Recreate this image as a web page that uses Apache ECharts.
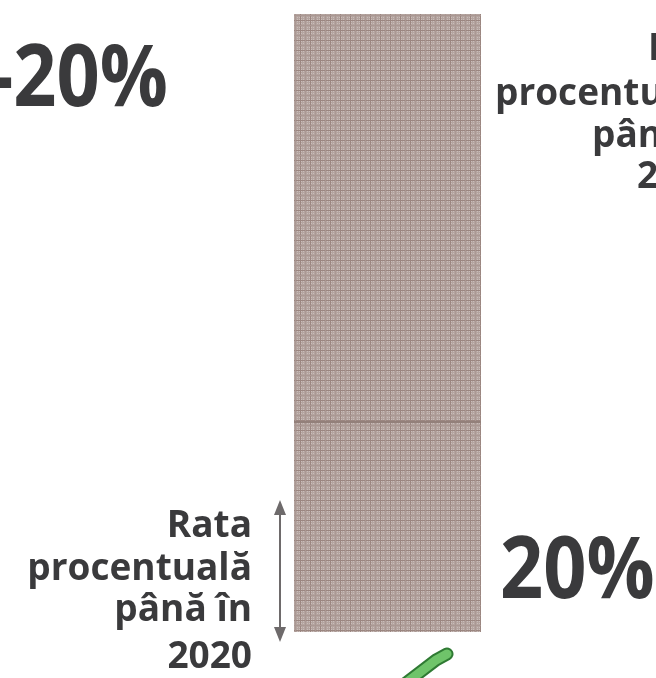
<!DOCTYPE html>
<html>
<head>
<meta charset="utf-8">
<script src="https://cdn.jsdelivr.net/npm/echarts@6/dist/echarts.min.js"></script>
<style>
  html, body { margin: 0; padding: 0; background: #fff; }
  #main { width: 656px; height: 678px; }
</style>
</head>
<body>
<div id="main"></div>
<script>
// data (share of the bar, top = 100)
var categories = ['total'];
var baseValues = [34];   // bottom segment, "rata până în 2020"
var restValues = [66];   // upper segment
var bigLabels = ['-20%', '20%'];
var sideLines = ['Rata', 'procentuală', 'până în', '2020'];

var chartDom = document.getElementById('main');
var myChart = echarts.init(chartDom, null, { renderer: 'canvas' });

// woven brown-grey texture of the bar
var makePattern = function () {
  var c = document.createElement('canvas');
  c.width = 10; c.height = 10;
  var ctx = c.getContext('2d');
  ctx.fillStyle = '#b4a49f';
  ctx.fillRect(0, 0, 10, 10);
  ctx.fillStyle = '#c9bdba';
  for (var i = 0; i < 10; i += 2) {
    for (var j = 1; j < 10; j += 2) {
      ctx.fillRect(i + 1, j, 1, 1);
    }
  }
  ctx.fillStyle = '#9b8680';
  ctx.fillRect(0, 0, 10, 1);
  ctx.fillRect(0, 0, 1, 10);
  ctx.fillStyle = '#aa9893';
  ctx.fillRect(0, 5, 10, 1);
  ctx.fillRect(5, 0, 1, 10);
  return c;
};
var pattern = { image: makePattern(), repeat: 'repeat' };

var textColor = '#3a3a3c';
var fontFam = '"Open Sans", "DejaVu Sans", sans-serif';

var textEl = function (x, y, txt, size, align, sx) {
  return {
    type: 'text', x: x, y: y, z: 10, scaleX: sx || 1,
    style: {
      text: txt, fill: textColor, font: 'bold ' + size + 'px ' + fontFam,
      textAlign: align, textVerticalAlign: 'bottom'
    }
  };
};

var graphics = [
  textEl(168, 124, bigLabels[0], 86, 'right', 0.88),
  textEl(500, 616, bigLabels[1], 86, 'left', 0.88),
  textEl(252, 545, sideLines[0], 37, 'right'),
  textEl(252, 588, sideLines[1], 37, 'right'),
  textEl(252, 629, sideLines[2], 37, 'right'),
  textEl(252, 676, sideLines[3], 37, 'right'),
  textEl(648, 68, sideLines[0], 37, 'left'),
  textEl(495, 113, sideLines[1], 37, 'left'),
  textEl(592, 155, sideLines[2], 37, 'left'),
  textEl(637, 196, sideLines[3], 37, 'left'),
  // double arrow beside the lower segment
  { type: 'line', shape: { x1: 280, y1: 512, x2: 280, y2: 630 },
    style: { stroke: '#6e6a6b', lineWidth: 2 } },
  { type: 'polygon', shape: { points: [[280, 500], [274, 515], [286, 515]] },
    style: { fill: '#6e6a6b' } },
  { type: 'polygon', shape: { points: [[280, 642], [274, 627], [286, 627]] },
    style: { fill: '#6e6a6b' } },
  // green tick peeking in at the bottom
  { type: 'polyline', shape: { points: [[402, 686], [436, 660], [447, 654]] },
    style: { stroke: '#2f7a33', lineWidth: 13, lineCap: 'round' } },
  { type: 'polyline', shape: { points: [[402, 686], [436, 660], [447, 654]] },
    style: { stroke: '#6fc46a', lineWidth: 9, lineCap: 'round' } }
];

var option = {
  animation: false,
  backgroundColor: '#ffffff',
  grid: { left: 294, width: 187, top: 14, bottom: 46 },
  xAxis: {
    type: 'category', data: categories,
    axisLine: { show: false }, axisTick: { show: false }, axisLabel: { show: false }
  },
  yAxis: {
    type: 'value', min: 0, max: 100,
    axisLine: { show: false }, axisTick: { show: false },
    axisLabel: { show: false }, splitLine: { show: false }
  },
  series: [
    {
      type: 'bar', stack: 'all', barWidth: '100%', data: baseValues,
      itemStyle: { color: pattern },
      markLine: {
        silent: true, symbol: 'none', label: { show: false },
        lineStyle: { color: '#93807a', width: 2, type: 'solid' },
        data: [{ yAxis: baseValues[0] }]
      }
    },
    {
      type: 'bar', stack: 'all', barWidth: '100%', data: restValues,
      itemStyle: { color: pattern }
    }
  ],
  graphic: graphics
};

myChart.setOption(option);
</script>
</body>
</html>
